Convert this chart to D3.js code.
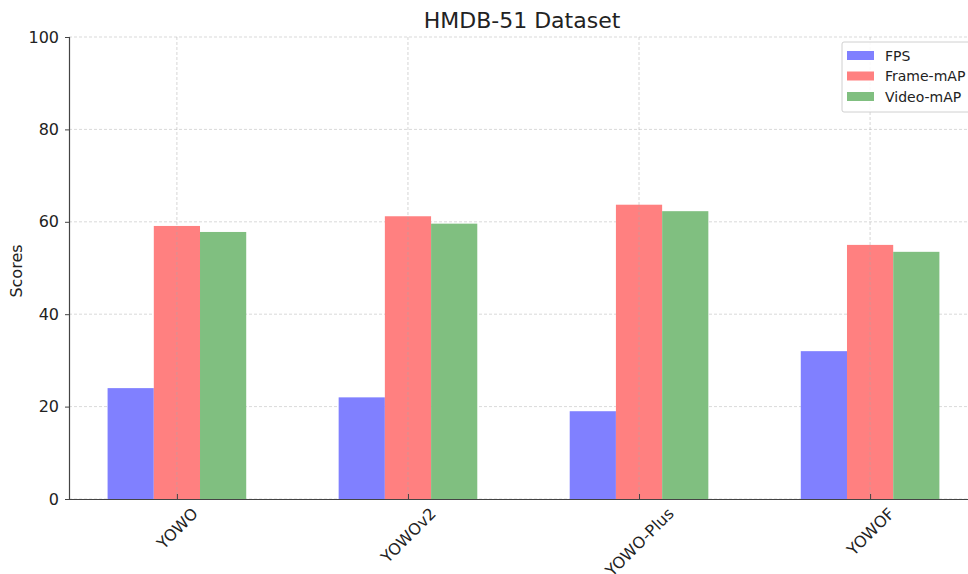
<!DOCTYPE html>
<html><head><meta charset="utf-8">
<script src="https://cdn.jsdelivr.net/npm/d3@7"></script>
<style>body{margin:0;background:#fff}svg{display:block}text{font-family:"DejaVu Sans",sans-serif;fill:#222}</style>
</head><body><svg id="c" width="968" height="574"></svg>
<script>
const categories = ["YOWO", "YOWOv2", "YOWO-Plus", "YOWOF"];
const seriesNames = ["FPS", "Frame-mAP", "Video-mAP"];
const fps = [24, 22, 19, 32];
const frameMAP = [59.1, 61.2, 63.7, 55.0];
const videoMAP = [57.8, 59.6, 62.3, 53.5];
const yTicks = [0, 20, 40, 60, 80, 100];
const colors = ["#8080ff", "#ff8080", "#80bf80"];
const seriesValues = [fps, frameMAP, videoMAP];

const svg = d3.select("#c");
const L = 69, T = 37, B = 499, R = 981;
const x = d3.scaleLinear().domain([-0.467, 3.48]).range([L, R]);
const y = d3.scaleLinear().domain([0, 100]).range([B, T]);
const bw = 0.2;

// horizontal grid
svg.append("g").selectAll("line").data(yTicks).join("line")
  .attr("x1", L).attr("x2", R).attr("y1", d => y(d)).attr("y2", d => y(d))
  .attr("stroke", "#cfcfcf").attr("stroke-width", 0.8).attr("stroke-dasharray", "3,2");

// bars
seriesValues.forEach((vals, s) => {
  svg.append("g").selectAll("rect").data(vals).join("rect")
    .attr("x", (d, i) => x(i + (s - 1) * bw - bw / 2))
    .attr("width", x(bw) - x(0))
    .attr("y", d => y(d))
    .attr("height", d => B - y(d))
    .attr("fill", colors[s]);
});

// vertical grid over bars
svg.append("g").selectAll("line").data(categories).join("line")
  .attr("x1", (d, i) => x(i)).attr("x2", (d, i) => x(i)).attr("y1", T).attr("y2", B)
  .attr("stroke", "#a8a8a8").attr("stroke-opacity", 0.6).attr("stroke-width", 0.8).attr("stroke-dasharray", "3,2");

// y axis
const ya = svg.append("g").attr("transform", `translate(${L},0)`)
  .call(d3.axisLeft(y).tickValues(yTicks).tickSize(4).tickPadding(6));
ya.select(".domain").attr("stroke", "#444").attr("stroke-width", 1.2);
ya.selectAll(".tick line").attr("stroke", "#444");
ya.selectAll("text").style("font-size", "16px").attr("fill", "#222");

// x axis
const xa = svg.append("g").attr("transform", `translate(0,${B})`)
  .call(d3.axisBottom(x).tickValues([0, 1, 2, 3]).tickFormat(i => categories[i]).tickSize(-5).tickSizeOuter(0));
xa.select(".domain").attr("stroke", "#444").attr("stroke-width", 1.2);
xa.selectAll(".tick line").attr("stroke", "#444");
xa.selectAll("text")
  .style("font-size", "16px").attr("fill", "#222")
  .attr("text-anchor", "middle").attr("dy", "0.35em").attr("y", null)
  .each(function() {
    const w = this.getComputedTextLength();
    const h = 16;
    const half = (w + h) * Math.SQRT1_2 / 2;
    d3.select(this).attr("transform", `translate(0,${6 + half}) rotate(-45)`);
  });

// title & labels
svg.append("text").attr("x", 522).attr("y", 28).attr("text-anchor", "middle")
  .style("font-size", "22px").text("HMDB-51 Dataset");
svg.append("text").attr("transform", "translate(22,271) rotate(-90)").attr("text-anchor", "middle")
  .style("font-size", "16px").text("Scores");

// legend
const lg = svg.append("g").attr("transform", "translate(842,42)");
lg.append("rect").attr("width", 136).attr("height", 70).attr("rx", 2)
  .attr("fill", "#fff").attr("fill-opacity", 0.85).attr("stroke", "#d0d0d0");
seriesNames.forEach((n, i) => {
  lg.append("rect").attr("x", 5).attr("y", 9 + i * 20.5).attr("width", 27).attr("height", 9).attr("fill", colors[i]);
  lg.append("text").attr("x", 43).attr("y", 18.5 + i * 20.5).style("font-size", "14px").text(n);
});
</script></body></html>
